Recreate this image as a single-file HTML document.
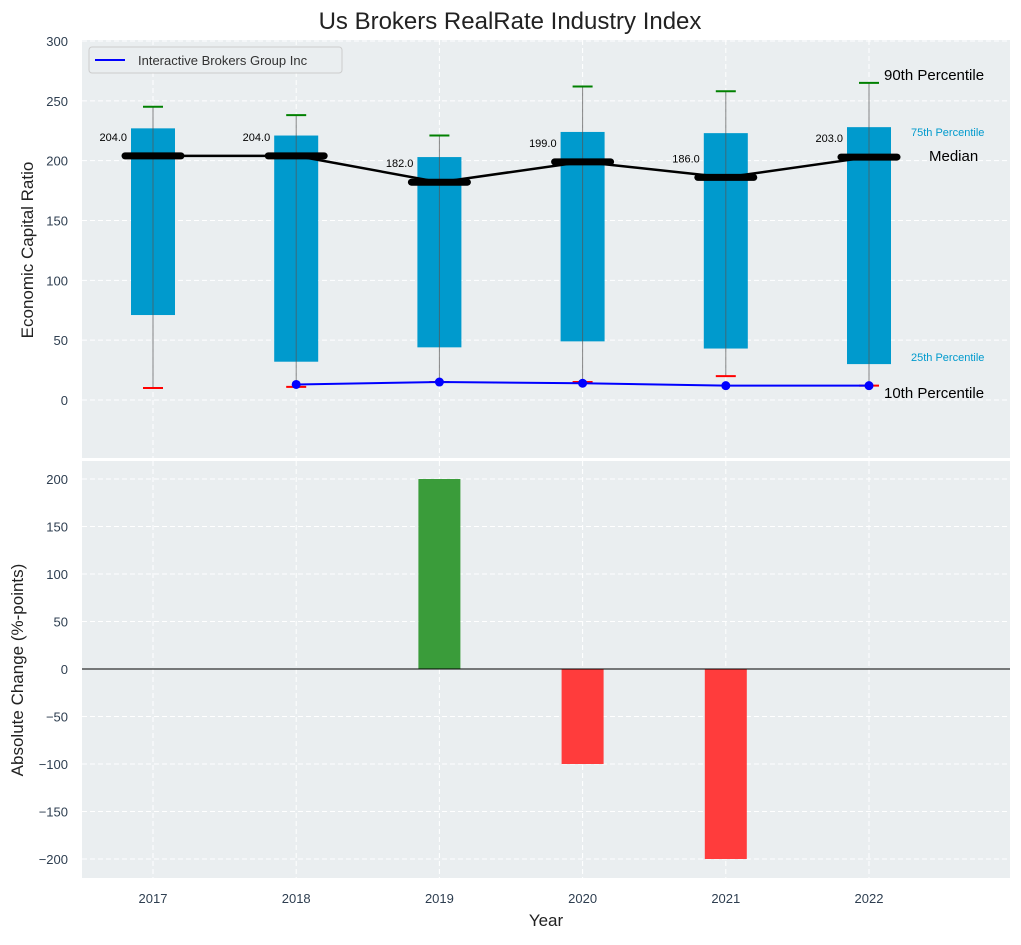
<!DOCTYPE html>
<html><head><meta charset="utf-8"><style>
body{margin:0;background:#fff;font-family:"Liberation Sans",sans-serif}
svg text{font-family:"Liberation Sans","DejaVu Sans",sans-serif}
</style></head><body>
<svg id="c" width="1021" height="940" xmlns="http://www.w3.org/2000/svg"></svg>
<script>
const years=[2017,2018,2019,2020,2021,2022];
const p90=[245,238,221,262,258,265];
const p75=[227,221,203,224,223,228];
const med=[204,204,182,199,186,203];
const p25=[71,32,44,49,43,30];
const p10=[10,11,15,15,20,12];
const compYears=[2018,2019,2020,2021,2022];
const compVals=[13,15,14,12,12];
const chgYears=[2019,2020,2021];
const chgVals=[200,-100,-200];
const topTicks=[0,50,100,150,200,250,300];
const botTicks=[-200,-150,-100,-50,0,50,100,150,200];

const svg=document.getElementById('c');
const NS='http://www.w3.org/2000/svg';
function el(t,a,txt){const e=document.createElementNS(NS,t);for(const k in a)e.setAttribute(k,a[k]);if(txt!==undefined)e.textContent=txt;svg.appendChild(e);return e;}
const X=y=>153+(y-2017)*143.2;
const YT=v=>400-v*1.1967;
const YB=v=>669-v*0.95;
const L=82,R=1010;
const tickCol='#2e3e50';

// title
let t=el('text',{x:510,y:29,'text-anchor':'middle','font-size':24,fill:'#222'},'Us Brokers RealRate Industry Index');



// panels
let p=el('rect',{x:L,y:40,width:R-L,height:418,fill:'#eaeef0'});


p=el('rect',{x:L,y:461,width:R-L,height:417,fill:'#eaeef0'});



// grids
years.forEach(y=>{
  let g=el('line',{x1:X(y),x2:X(y),y1:40,y2:458,stroke:'#fff','stroke-dasharray':'5,3'});
  
  
  g=el('line',{x1:X(y),x2:X(y),y1:461,y2:878,stroke:'#fff','stroke-dasharray':'5,3'});
  
  
  let tl=el('text',{x:X(y),y:903,'text-anchor':'middle','font-size':13,fill:tickCol},y);
  
  
});
topTicks.forEach(v=>{
  let g=el('line',{x1:L,x2:R,y1:YT(v),y2:YT(v),stroke:'#fff','stroke-dasharray':'5,3'});
  
  
  let tl=el('text',{x:68,y:YT(v)+5,'text-anchor':'end','font-size':13,fill:tickCol},v);
  
  
});
botTicks.forEach(v=>{
  let g=el('line',{x1:L,x2:R,y1:YB(v),y2:YB(v),stroke:'#fff','stroke-dasharray':'5,3'});
  
  
  let tl=el('text',{x:68,y:YB(v)+5,'text-anchor':'end','font-size':13,fill:tickCol},String(v).replace('-','\u2212'));
  
  
});

// boxes
years.forEach((y,i)=>{
  let b=el('rect',{x:X(y)-22,y:YT(p75[i]),width:44,height:YT(p25[i])-YT(p75[i]),fill:'#009acd'});
  
  
  let w=el('line',{x1:X(y),x2:X(y),y1:YT(p90[i]),y2:YT(p10[i]),stroke:'#555','stroke-width':1,opacity:0.7});
  
  
  let a=el('line',{x1:X(y)-10,x2:X(y)+10,y1:YT(p90[i]),y2:YT(p90[i]),stroke:'green','stroke-width':2});
  
  
  a=el('line',{x1:X(y)-10,x2:X(y)+10,y1:YT(p10[i]),y2:YT(p10[i]),stroke:'red','stroke-width':2});
  
  
});
// median line
let pl=el('polyline',{points:years.map((y,i)=>X(y)+','+YT(med[i])).join(' '),fill:'none',stroke:'#000','stroke-width':2.5});


years.forEach((y,i)=>{
  let m=el('line',{x1:X(y)-28,x2:X(y)+28,y1:YT(med[i]),y2:YT(med[i]),stroke:'#000','stroke-width':7,'stroke-linecap':'round'});
  
  
  let l=el('text',{x:X(y)-26,y:YT(med[i])-15,'text-anchor':'end','font-size':11,fill:'#000'},med[i].toFixed(1));
  
  
});
// company line
pl=el('polyline',{points:compYears.map((y,i)=>X(y)+','+YT(compVals[i])).join(' '),fill:'none',stroke:'#00f','stroke-width':2});


compYears.forEach((y,i)=>{
  let c=el('circle',{cx:X(y),cy:YT(compVals[i]),r:4.5,fill:'#00f'});
  
  
});
// right annotations
const ann=[['90th Percentile',884,80,15,'#000'],['75th Percentile',911,136,11,'#009acd'],['Median',929,161,15,'#000'],['25th Percentile',911,361,11,'#009acd'],['10th Percentile',884,398,15,'#000']];
ann.forEach(a=>{
  let e=el('text',{x:a[1],y:a[2],'font-size':a[3],fill:a[4]},a[0]);
  
  
});
// legend
let lg=el('rect',{x:89,y:47,width:253,height:26,rx:3,fill:'#eaeef0',stroke:'#ccc'});


let ll=el('line',{x1:95,x2:125,y1:60,y2:60,stroke:'#00f','stroke-width':2});


let lt=el('text',{x:138,y:65,'font-size':13,fill:'#333'},'Interactive Brokers Group Inc');



// bottom bars
chgYears.forEach((y,i)=>{
  const v=chgVals[i];
  let b=el('rect',{x:X(y)-21,y:Math.min(YB(v),YB(0)),width:42,height:Math.abs(YB(v)-YB(0)),fill:v>=0?'#3a9c3a':'#ff3c3c'});
  
  
});
let zl=el('line',{x1:L,x2:R,y1:YB(0),y2:YB(0),stroke:'#000','stroke-width':1});



// axis titles
let at=el('text',{x:0,y:0,'font-size':17,fill:'#222','text-anchor':'middle',transform:'translate(33,250) rotate(-90)'},'Economic Capital Ratio');


at=el('text',{x:0,y:0,'font-size':17,fill:'#222','text-anchor':'middle',transform:'translate(23,670) rotate(-90)'},'Absolute Change (%-points)');


at=el('text',{x:546,y:926,'font-size':17,fill:'#222','text-anchor':'middle'},'Year');


</script>
</body></html>
